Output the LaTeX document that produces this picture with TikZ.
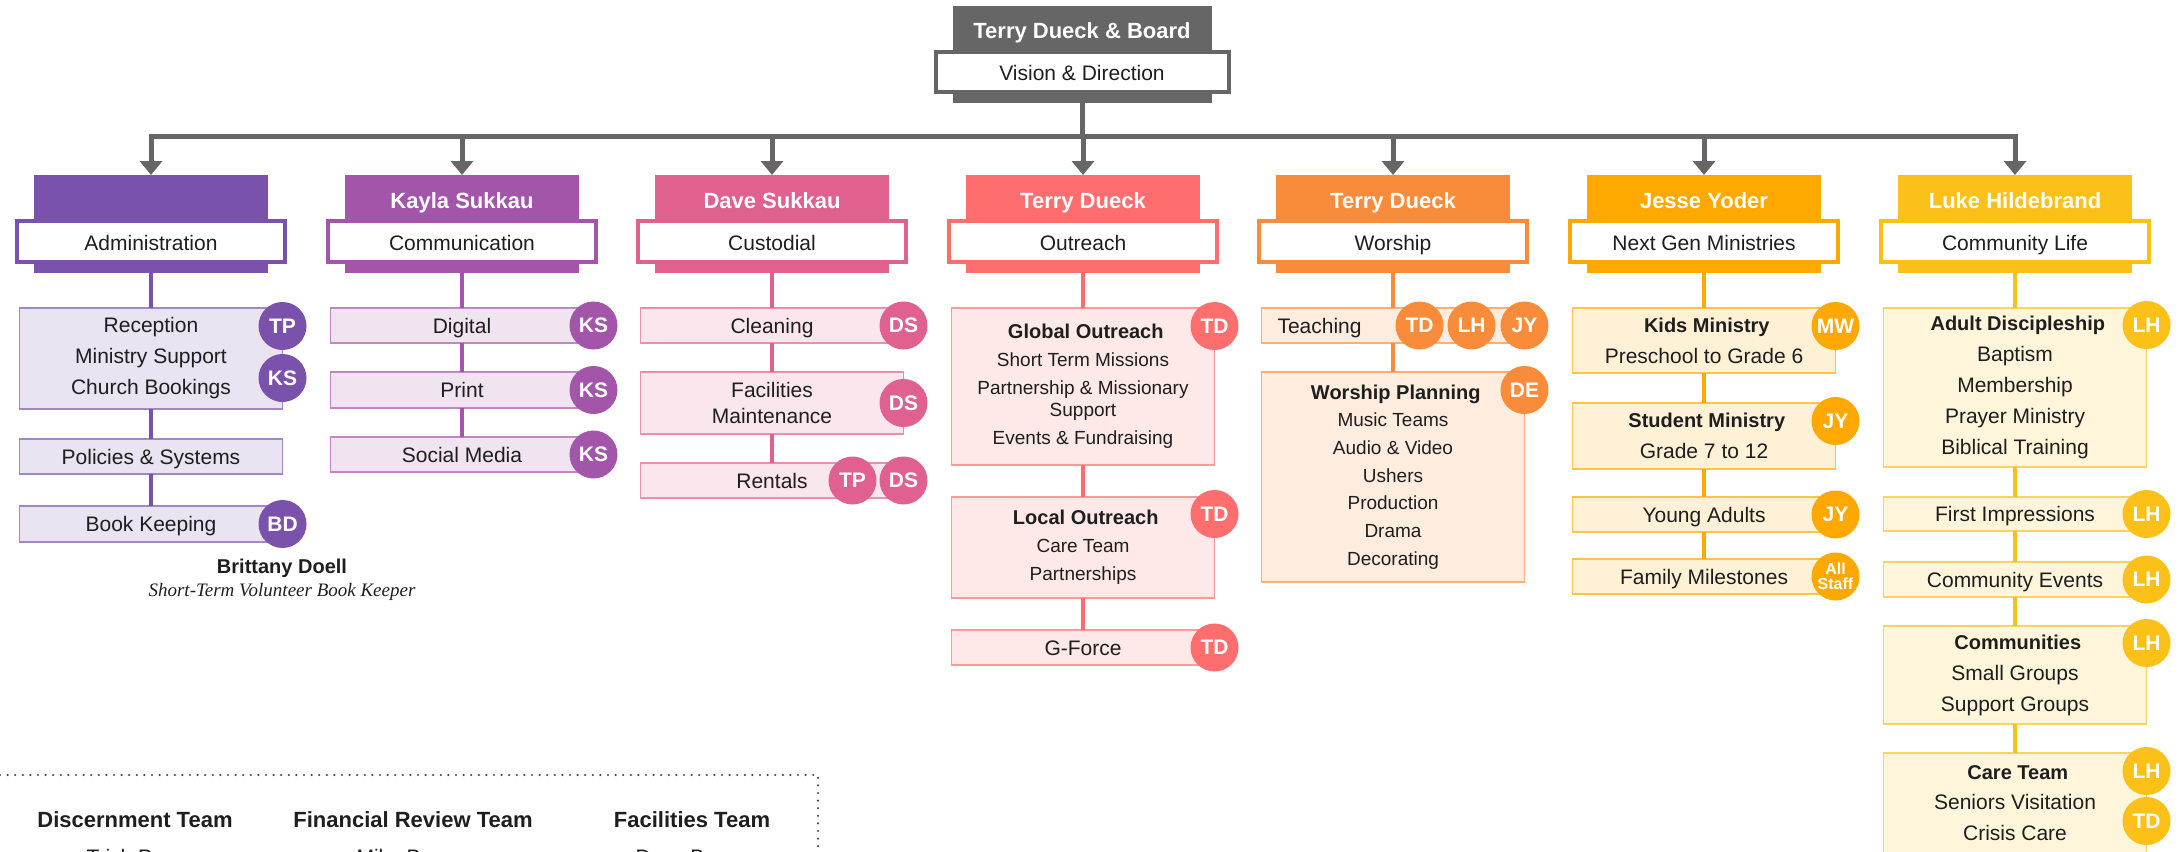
\documentclass[tikz,border=0pt]{standalone}
\usepackage{fontspec}
\setmainfont{Liberation Sans}
\newfontfamily\serifit{Liberation Serif}
\usetikzlibrary{positioning,arrows.meta}

\definecolor{board}{HTML}{666666}
\definecolor{admin}{HTML}{7B52AB}
\definecolor{comms}{HTML}{A355AA}
\definecolor{custod}{HTML}{E0608F}
\definecolor{outreach}{HTML}{FF6E6E}
\definecolor{worship}{HTML}{F98C3A}
\definecolor{nextgen}{HTML}{FFA800}
\definecolor{commlife}{HTML}{FBC118}
\definecolor{ink}{HTML}{1E1E1E}

\newcommand{\sz}[2]{\fontsize{#1}{#2}\selectfont}

\tikzset{
  hdrblock/.style={fill=#1, minimum width=234pt, minimum height=98pt, inner sep=0pt, outer sep=0pt},
  hdrname/.style={text=white, font=\bfseries\sz{22}{26}},
  hdrbox/.style={draw=#1, line width=4pt, fill=white, text=ink, minimum width=268pt, minimum height=41pt, inner sep=0pt, text height=18pt, text depth=0pt, font=\sz{21}{25}},
  item/.style={draw=#1!70!white, line width=1.8pt, fill=#1!16!white, text=ink, minimum width=263pt, inner sep=0pt, outer sep=0pt, align=center, anchor=north, font=\sz{21}{31}},
  oneline/.style={text height=15pt, text depth=0pt},
  tag/.style={circle, fill=#1, minimum size=48pt, inner sep=0pt, text=white, font=\bfseries\sz{21}{21}},
  link/.style={draw=#1, line width=4pt}
}
\tikzstyle{arrow} = [draw=board, line width=5pt, -{Triangle[width=22pt,length=14pt]}]
\tikzstyle{bus} = [draw=board, line width=5pt, line cap=rect]
\tikzstyle{dotline} = [draw=ink!80, line width=2.4pt, line cap=round, dash pattern=on 0pt off 7.6pt]
\tikzstyle{team} = [text=ink, font=\bfseries\sz{22}{26}]
\tikzstyle{member} = [text=ink, font=\sz{21}{25}, anchor=base west]

\begin{document}
\begin{tikzpicture}[x=1pt, y=-1pt]
\useasboundingbox (0,0) rectangle (2183,851);
\clip (0,0) rectangle (2183,851);

% board
\node[fill=board, minimum width=259pt, minimum height=97pt, inner sep=0pt, outer sep=0pt] (board) at (1082,54.5) {};
\node[hdrname, anchor=base] (boardname) at (1082,39) {Terry Dueck \& Board};
\node[hdrbox=board, minimum width=293pt, minimum height=40pt] (vision) at (1082,72) {Vision \& Direction};

% department headers
\node[hdrblock=admin] (adm) at (151,224) {};
\node[hdrbox=admin] (admbox) at (151,241.5) {Administration};

\node[hdrblock=comms] (com) at (462,224) {};
\node[hdrname, anchor=base] (comname) at (462,208) {Kayla Sukkau};
\node[hdrbox=comms] (combox) at (462,241.5) {Communication};

\node[hdrblock=custod] (cus) at (772,224) {};
\node[hdrname, anchor=base] (cusname) at (772,208) {Dave Sukkau};
\node[hdrbox=custod] (cusbox) at (772,241.5) {Custodial};

\node[hdrblock=outreach] (out) at (1083,224) {};
\node[hdrname, anchor=base] (outname) at (1083,208) {Terry Dueck};
\node[hdrbox=outreach] (outbox) at (1083,241.5) {Outreach};

\node[hdrblock=worship] (wor) at (1393,224) {};
\node[hdrname, anchor=base] (worname) at (1393,208) {Terry Dueck};
\node[hdrbox=worship] (worbox) at (1393,241.5) {Worship};

\node[hdrblock=nextgen] (nxt) at (1704,224) {};
\node[hdrname, anchor=base] (nxtname) at (1704,208) {Jesse Yoder};
\node[hdrbox=nextgen] (nxtbox) at (1704,241.5) {Next Gen Ministries};

\node[hdrblock=commlife] (cml) at (2015,224) {};
\node[hdrname, anchor=base] (cmlname) at (2015,208) {Luke Hildebrand};
\node[hdrbox=commlife] (cmlbox) at (2015,241.5) {Community Life};

% bus and arrows
\coordinate (busL) at (151,136);
\coordinate (busR) at (2015,136);
\draw[bus] (board.south) -- (board.south |- busL);
\draw[bus] (busL) -- (busR);
\foreach \h in {adm,com,cus,out,wor,nxt,cml}
  \draw[arrow] (\h.north |- busL) -- (\h.north);

% administration
\node[item=admin, minimum height=101pt, below=35pt of adm] (a1) {Reception\\Ministry Support\\Church Bookings};
\node[item=admin, oneline, minimum height=35pt, below=30pt of a1] (a2) {Policies \& Systems};
\node[item=admin, oneline, minimum height=36pt, below=32pt of a2] (a3) {Book Keeping};
\node[tag=admin] (a1tp) at ([yshift=-18pt]a1.north east) {TP};
\node[tag=admin] (a1ks) at ([yshift=-70pt]a1.north east) {KS};
\node[tag=admin] (a3bd) at (a3.east) {BD};
\draw[link=admin] (adm.south) -- (a1.north);
\draw[link=admin] (a1.south) -- (a2.north);
\draw[link=admin] (a2.south) -- (a3.north);
\node[text=ink, font=\bfseries\sz{20}{24}] (bdname) at (282,568) {Brittany Doell};
\node[text=ink, font=\serifit\itshape\sz{19}{23}] (bdrole) at (282,592) {Short-Term Volunteer Book Keeper};

% communication
\node[item=comms, oneline, minimum height=35pt, below=35pt of com] (c1) {Digital};
\node[item=comms, oneline, minimum height=36pt, below=29pt of c1] (c2) {Print};
\node[item=comms, oneline, minimum height=35pt, below=29pt of c2] (c3) {Social Media};
\node[tag=comms] (c1ks) at (c1.east) {KS};
\node[tag=comms] (c2ks) at (c2.east) {KS};
\node[tag=comms] (c3ks) at (c3.east) {KS};
\draw[link=comms] (com.south) -- (c1.north);
\draw[link=comms] (c1.south) -- (c2.north);
\draw[link=comms] (c2.south) -- (c3.north);

% custodial
\node[item=custod, oneline, minimum height=35pt, below=35pt of cus] (d1) {Cleaning};
\node[item=custod, minimum height=62pt, font=\sz{21}{26}, below=29pt of d1] (d2) {Facilities\\Maintenance};
\node[item=custod, oneline, minimum height=35pt, below=29pt of d2] (d3) {Rentals};
\node[tag=custod] (d1ds) at (d1.east) {DS};
\node[tag=custod] (d2ds) at (d2.east) {DS};
\node[tag=custod] (d3tp) at ([xshift=-51pt]d3.east) {TP};
\node[tag=custod] (d3ds) at (d3.east) {DS};
\draw[link=custod] (cus.south) -- (d1.north);
\draw[link=custod] (d1.south) -- (d2.north);
\draw[link=custod] (d2.south) -- (d3.north);

% outreach
\node[item=outreach, minimum height=157pt, font=\sz{19}{28}, below=35pt of out] (o1)
  {{\bfseries\sz{20}{28} Global Outreach}\\Short Term Missions\\Partnership \& Missionary\\[-6pt]Support\\Events \& Fundraising};
\node[item=outreach, minimum height=101pt, font=\sz{19}{28}, below=32pt of o1] (o2)
  {{\bfseries\sz{20}{28} Local Outreach}\\Care Team\\Partnerships};
\node[item=outreach, oneline, minimum height=35pt, below=32pt of o2] (o3) {G-Force};
\node[tag=outreach] (o1td) at ([yshift=-18pt]o1.north east) {TD};
\node[tag=outreach] (o2td) at ([yshift=-17pt]o2.north east) {TD};
\node[tag=outreach] (o3td) at (o3.east) {TD};
\draw[link=outreach] (out.south) -- (o1.north);
\draw[link=outreach] (o1.south) -- (o2.north);
\draw[link=outreach] (o2.south) -- (o3.north);

% worship
\node[item=worship, oneline, minimum height=35pt, text width=231pt, inner xsep=16pt, align=left, below=35pt of wor] (w1) {Teaching};
\node[item=worship, minimum height=210pt, font=\sz{19}{27.7}, below=29pt of w1] (w2)
  {{\bfseries\sz{20}{27.7} Worship Planning}\\Music Teams\\Audio \& Video\\Ushers\\Production\\Drama\\Decorating};
\node[tag=worship] (w1td) at ([xshift=-105pt]w1.east) {TD};
\node[tag=worship] (w1lh) at ([xshift=-53pt]w1.east) {LH};
\node[tag=worship] (w1jy) at (w1.east) {JY};
\node[tag=worship] (w2de) at ([yshift=-18pt]w2.north east) {DE};
\draw[link=worship] (wor.south) -- (w1.north);
\draw[link=worship] (w1.south) -- (w2.north);

% next gen
\node[item=nextgen, minimum height=65pt, below=35pt of nxt] (n1) {{\bfseries\sz{20}{31} Kids Ministry}\\Preschool to Grade 6};
\node[item=nextgen, minimum height=66pt, below=30pt of n1] (n2) {{\bfseries\sz{20}{31} Student Ministry}\\Grade 7 to 12};
\node[item=nextgen, oneline, minimum height=35pt, below=28pt of n2] (n3) {Young Adults};
\node[item=nextgen, oneline, minimum height=35pt, below=27pt of n3] (n4) {Family Milestones};
\node[tag=nextgen] (n1mw) at ([yshift=-18pt]n1.north east) {MW};
\node[tag=nextgen] (n2jy) at ([yshift=-18pt]n2.north east) {JY};
\node[tag=nextgen] (n3jy) at (n3.east) {JY};
\node[tag=nextgen, align=center, font=\bfseries\sz{16}{15}] (n4all) at (n4.east) {All\\Staff};
\draw[link=nextgen] (nxt.south) -- (n1.north);
\draw[link=nextgen] (n1.south) -- (n2.north);
\draw[link=nextgen] (n2.south) -- (n3.north);
\draw[link=nextgen] (n3.south) -- (n4.north);

% community life
\node[item=commlife, minimum height=159pt, below=35pt of cml] (l1)
  {{\bfseries\sz{20}{31} Adult Discipleship}\\Baptism\\Membership\\Prayer Ministry\\Biblical Training};
\node[item=commlife, oneline, minimum height=34pt, below=30pt of l1] (l2) {First Impressions};
\node[item=commlife, oneline, minimum height=35pt, below=31pt of l2] (l3) {Community Events};
\node[item=commlife, minimum height=98pt, below=29pt of l3] (l4)
  {{\bfseries\sz{20}{31} Communities}\\Small Groups\\Support Groups};
\node[item=commlife, minimum height=100pt, font=\sz{21}{30.5}, below=29pt of l4] (l5)
  {{\bfseries\sz{20}{30.5} Care Team}\\Seniors Visitation\\Crisis Care};
\node[tag=commlife] (l1lh) at ([yshift=-17pt]l1.north east) {LH};
\node[tag=commlife] (l2lh) at (l2.east) {LH};
\node[tag=commlife] (l3lh) at (l3.east) {LH};
\node[tag=commlife] (l4lh) at ([yshift=-17pt]l4.north east) {LH};
\node[tag=commlife] (l5lh) at ([yshift=-18pt]l5.north east) {LH};
\node[tag=commlife] (l5td) at ([yshift=-68pt]l5.north east) {TD};
\draw[link=commlife] (cml.south) -- (l1.north);
\draw[link=commlife] (l1.south) -- (l2.north);
\draw[link=commlife] (l2.south) -- (l3.north);
\draw[link=commlife] (l3.south) -- (l4.north);
\draw[link=commlife] (l4.south) -- (l5.north);

% teams
\draw[dotline] (0,775) -- (818,775) -- (818,860);
\node[team] (discern) at (135,820) {Discernment Team};
\node[team] (finance) at (413,820) {Financial Review Team};
\node[team] (facility) at (692,820) {Facilities Team};
\node[member] (discernm) at (83,864) {Trish P};
\node[member] (financem) at (353,864) {Mike Bru};
\node[member] (facilitym) at (632,864) {Dave Bru};
\end{tikzpicture}
\end{document}
